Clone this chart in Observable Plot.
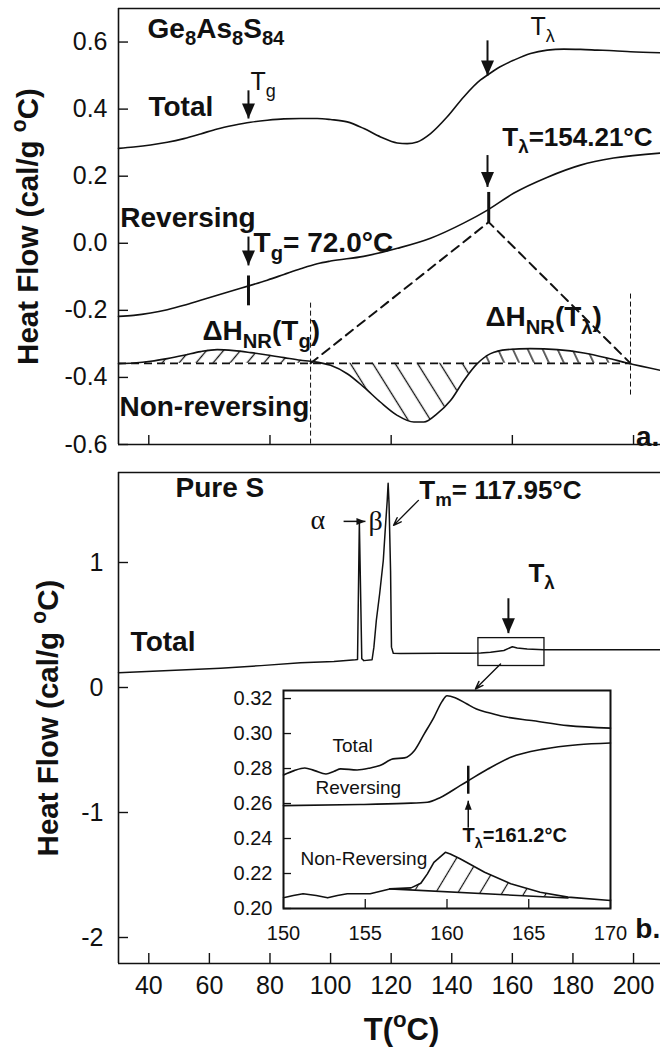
<!DOCTYPE html>
<html><head><meta charset="utf-8">
<script src="https://cdn.jsdelivr.net/npm/d3@7"></script>
<script src="https://cdn.jsdelivr.net/npm/@observablehq/plot@0.6"></script>
<style>
body{margin:0;background:#fff;}
#wrap{position:relative;width:660px;height:1050px;overflow:hidden;font-family:"Liberation Sans",Arial,Helvetica,sans-serif;}
#wrap svg.plotsvg{position:absolute;}
</style></head>
<body>
<svg width="0" height="0" style="position:absolute">
  <defs>
    <pattern id="hatchL" patternUnits="userSpaceOnUse" width="13" height="13" patternTransform="rotate(40)"><line x1="6.5" y1="-1" x2="6.5" y2="14" stroke="#111" stroke-width="1.3"/></pattern>
    <pattern id="hatchD" patternUnits="userSpaceOnUse" width="19" height="19" patternTransform="rotate(-32)"><line x1="9.5" y1="-1" x2="9.5" y2="20" stroke="#111" stroke-width="1.3"/></pattern>
    <pattern id="hatchR" patternUnits="userSpaceOnUse" width="13.5" height="13.5" patternTransform="rotate(-25)"><line x1="6.7" y1="-1" x2="6.7" y2="15" stroke="#111" stroke-width="1.3"/></pattern>
    <pattern id="hatchI" patternUnits="userSpaceOnUse" width="19" height="19" patternTransform="rotate(31)"><line x1="9.5" y1="-1" x2="9.5" y2="20" stroke="#111" stroke-width="1.2"/></pattern>
  </defs>
</svg>
<div id="wrap"></div>
<script>
// ================= DATA =================
// shared temperature axis (°C)
const xDomain = [30, 208.9];
const aXTicks = [40, 80, 120, 160, 200];
const bXTicks = [40, 60, 80, 100, 120, 140, 160, 180, 200];

// ---- panel a: Ge8As8S84 ----
const aYDomain = [-0.6, 0.70];
const aYTicks = [-0.6, -0.4, -0.2, 0, 0.2, 0.4, 0.6];
const aT_total = [30,35,40.6,46.1,51.6,57.1,62.6,68.1,73.6,79.1,84.6,90.1,95.6,100,105.5,111,116.5,122,125.3,128.6,133,138.5,144,149.5,151.7,155,160.5,166,171.5,177,182.5,188,193.5,199,208.9];
const aTotal   = [0.283,0.287,0.293,0.301,0.312,0.326,0.341,0.352,0.361,0.367,0.371,0.372,0.372,0.369,0.362,0.342,0.317,0.299,0.297,0.302,0.327,0.377,0.437,0.487,0.501,0.521,0.546,0.566,0.576,0.579,0.578,0.576,0.574,0.571,0.568];
const aT_rev = [30,35,40.6,46.1,51.6,57.1,62.6,68.1,73,79.1,84.6,90.1,95.6,100,110.9,122.1,133,143.9,151.8,160.4,171.6,182.5,193.4,208.9];
const aRev   = [-0.218,-0.215,-0.208,-0.198,-0.185,-0.170,-0.155,-0.140,-0.127,-0.110,-0.093,-0.076,-0.061,-0.053,-0.039,-0.015,0.015,0.060,0.099,0.149,0.197,0.233,0.254,0.269];
const aT_nr = [30,35,40.6,46.1,51.6,57.1,62.6,68.1,73.6,79.1,84.6,90.1,93.4,100,105.5,111,116.5,122,127.5,130.8,135.2,139.6,144,148.4,152.8,158.3,166,174.8,183.6,191.3,197.9,208.9];
const aNR   = [-0.359,-0.357,-0.352,-0.344,-0.334,-0.323,-0.317,-0.320,-0.326,-0.333,-0.341,-0.349,-0.352,-0.364,-0.389,-0.429,-0.474,-0.513,-0.533,-0.533,-0.508,-0.469,-0.409,-0.359,-0.329,-0.317,-0.314,-0.317,-0.327,-0.342,-0.357,-0.379];
const aBase = -0.358;                 // non-reversing baseline
const aCross = [93.4, 148.4, 199];     // hatch region limits
const aApex = {T: 152.2, v: 0.063};    // construction apex on reversing curve
const aVlines = [{T: 93.4, v0: -0.177, v1: -0.6}, {T: 199, v0: -0.150, v1: -0.460}];
const aArrows = [{T: 72.9, v0: 0.456, v1: 0.372}, {T: 151.8, v0: 0.605, v1: 0.500}, {T: 151.8, v0: 0.263, v1: 0.168}, {T: 72.9, v0: 0.020, v1: -0.066}];
const aMarks = [{T: 72.9, v0: -0.096, v1: -0.185}, {T: 152.2, v0: 0.153, v1: 0.063}];
const aBold = [
  {text: "Ge_8As_8S_{84}", T: 39.6, v: 0.640},
  {text: "Total", T: 39.9, v: 0.405},
  {text: "Reversing", T: 30.6, v: 0.074},
  {text: "T_g= 72.0°C", T: 74.6, v: 0.0},
  {text: "ΔH_{NR}(T_g)", T: 57.7, v: -0.262},
  {text: "ΔH_{NR}(T_λ)", T: 151.1, v: -0.221},
  {text: "Non-reversing", T: 30.3, v: -0.487},
  {text: "a.", T: 200.8, v: -0.579}
];
const aBoldMid = [{text: "T_λ=154.21°C", T: 156.7, v: 0.315}];
const aReg = [{text: "T_g", T: 73.6, v: 0.482}, {text: "T_λ", T: 166, v: 0.646}];

// ---- panel b: pure S ----
const bYDomain = [-2.208, 1.72];
const bYTicks = [-2, -1, 0, 1];
const bT     = [30,63.7,77,90.1,101.1,108.2,108.9,109.5,110.3,111,113.7,114.3,115.1,116.2,117.4,118.1,118.7,119,119.3,119.8,120.1,120.7,123.1,136.3,145.6,149.5,152.8,157.2,160,161.6,164.9,170.4,174.8,183.6,208.9];
const bTotal = [0.118,0.154,0.175,0.198,0.208,0.222,0.224,1.32,0.23,0.215,0.222,0.323,0.536,0.75,1.016,1.283,1.496,1.634,1.47,0.936,0.323,0.274,0.272,0.274,0.274,0.276,0.282,0.296,0.326,0.316,0.308,0.302,0.302,0.302,0.302];
const bBox = [{T0: 148.8, T1: 170.6, v0: 0.172, v1: 0.395}];
const bArrowsDown = [{T: 158.7, v0: 0.714, v1: 0.435}];
const bAlphaArrow = [{T0: 104.3, T1: 111.5, v: 1.329}];
const bThinArrows = [{T0: 129, v0: 1.497, T1: 120.8, v1: 1.297}, {T0: 156.1, v0: 0.188, T1: 147.8, v1: -0.012}];
const bBold = [
  {text: "Pure S", T: 48.8, v: 1.592},
  {text: "Total", T: 34, v: 0.363},
  {text: "b.", T: 200.6, v: -1.935}
];
const bBoldMid = [{text: "T_m= 117.95°C", T: 129.3, v: 1.576}, {text: "T_λ", T: 165.3, v: 0.914}];
const bGreek = [{text: "α", T: 93.4, v: 1.337}, {text: "β", T: 112.5, v: 1.33}];

// ---- inset ----
const iXDomain = [150, 170];
const iYDomain = [0.20, 0.3246];
const iXTicks = [150, 155, 160, 165, 170];
const iYTicks = [0.20, 0.22, 0.24, 0.26, 0.28, 0.30, 0.32];
const iT_total = [150,150.65,151.3,151.9,152.6,153.1,153.5,154.5,155.3,155.9,156.7,157.4,158.0,158.6,159.2,159.7,160.0,160.5,161.2,161.8,162.5,163.3,165.3,167.4,170];
const iTotal   = [0.2763,0.2788,0.2803,0.2788,0.2769,0.2784,0.2798,0.2792,0.2803,0.2817,0.2855,0.2861,0.2902,0.2997,0.3093,0.3184,0.3216,0.3205,0.317,0.314,0.312,0.310,0.3073,0.3045,0.3031];
const iT_rev = [150,154.7,157.4,158.8,159.6,160.8,161.3,162.5,163.9,165.9,168.0,170];
const iRev   = [0.2588,0.2594,0.2601,0.2607,0.2635,0.2702,0.273,0.2797,0.2864,0.2911,0.2936,0.2946];
const iT_nr = [150,150.6,151.2,152,152.7,153.3,153.9,155.3,156.5,157.8,158.4,158.8,159.2,159.9,160.2,160.8,162.3,163.9,165.7,167.4,170];
const iNR   = [0.2061,0.2074,0.2084,0.2074,0.2061,0.2074,0.2084,0.2084,0.2112,0.2118,0.2144,0.2198,0.2264,0.2321,0.2312,0.2284,0.2207,0.2141,0.2093,0.2065,0.2046];
const iBase = [{T: 156.5, v: 0.2112}, {T: 167.4, v: 0.2060}];
const iMark = [{T: 161.3, v0: 0.2816, v1: 0.2656}];
const iArrowUp = [{T: 161.3, v0: 0.2462, v1: 0.2616}];
const iLabels = [
  {text: "Total", T: 153.0, v: 0.293},
  {text: "Reversing", T: 151.96, v: 0.269},
  {text: "Non-Reversing", T: 151.04, v: 0.2285}
];
const iBold = [{text: "T_λ=161.2°C", T: 160.95, v: 0.2417}];

// ================= HELPERS =================
const FONT = '"Liberation Sans", Arial, Helvetica, sans-serif';
const SERIF = '"Liberation Serif", "Times New Roman", serif';
const INK = "#111";
const pts = (Ts, vs) => Ts.map((T, i) => ({T, v: vs[i]}));
function segment(Ts, vs, t0, t1) {
  const f = d3.scaleLinear(Ts, vs);
  const out = [{T: t0, v: f(t0)}];
  Ts.forEach((T, i) => { if (T > t0 && T < t1) out.push({T, v: vs[i]}); });
  out.push({T: t1, v: f(t1)});
  return out;
}
const head = (w, h) => ({draw(ctx) { ctx.moveTo(0, 0); ctx.lineTo(-w, -h); ctx.lineTo(w, -h); ctx.closePath(); }});
const bigHead = head(6.5, 15);
const smallHead = head(3.5, 9);
const fmtA = d => (d < 0 ? "-" : "") + Math.abs(d).toFixed(1);
const fmtB = d => (d < 0 ? "-" : "") + Math.abs(d);
const fmtI = d => d.toFixed(2);
const styleBase = {fontFamily: FONT, color: INK, background: "transparent", overflow: "visible"};
const txt = (data, o) => Plot.text(data, {x: "T", y: "v", text: "text", textAnchor: "start", fill: INK, ...o});

function richify(svg) {
  svg.querySelectorAll("text").forEach(t => {
    const s = t.textContent;
    if (!/[_^]/.test(s)) return;
    const fs = parseFloat(getComputedStyle(t).fontSize) || 16;
    const parts = [];
    const re = /([_^])(\{[^}]*\}|.)/gu;
    let last = 0, m;
    while ((m = re.exec(s))) {
      if (m.index > last) parts.push({str: s.slice(last, m.index), mode: 0});
      let c = m[2]; if (c[0] === "{") c = c.slice(1, -1);
      parts.push({str: c, mode: m[1] === "_" ? 1 : -1});
      last = re.lastIndex;
    }
    if (last < s.length) parts.push({str: s.slice(last), mode: 0});
    while (t.firstChild) t.removeChild(t.firstChild);
    let cur = 0;
    for (const p of parts) {
      const ts = document.createElementNS("http://www.w3.org/2000/svg", "tspan");
      const target = p.mode === 1 ? 0.28 * fs : p.mode === -1 ? -0.42 * fs : 0;
      ts.setAttribute("dy", (target - cur).toFixed(2));
      cur = target;
      if (p.mode) ts.setAttribute("font-size", (0.72 * fs).toFixed(1));
      ts.textContent = p.str;
      t.appendChild(ts);
    }
  });
}

const wrap = document.getElementById("wrap");
function place(svg, left, topPx) {
  svg.classList.add("plotsvg");
  svg.style.left = left + "px";
  svg.style.top = topPx + "px";
  wrap.appendChild(svg);
  richify(svg);
}

// ================= PANEL A =================
const aW = 660, aH = 460, aML = 118, aMT = 8, aMB = 16;
const aPlotW = aW - aML, aPlotH = aH - aMT - aMB;
const panelA = Plot.plot({
  width: aW, height: aH, marginLeft: aML, marginRight: 0, marginTop: aMT, marginBottom: aMB,
  x: {domain: xDomain, axis: null},
  y: {domain: aYDomain, axis: null},
  style: styleBase,
  marks: [
    Plot.areaY(segment(aT_nr, aNR, xDomain[0], aCross[0]), {x: "T", y1: aBase, y2: "v", fill: "url(#hatchL)", curve: "monotone-x"}),
    Plot.areaY(segment(aT_nr, aNR, aCross[0], aCross[1]), {x: "T", y1: aBase, y2: "v", fill: "url(#hatchD)", curve: "monotone-x"}),
    Plot.areaY(segment(aT_nr, aNR, aCross[1], aCross[2]), {x: "T", y1: aBase, y2: "v", fill: "url(#hatchR)", curve: "monotone-x"}),
    Plot.ruleY([aBase], {x1: xDomain[0], x2: aCross[2], stroke: INK, strokeWidth: 1.6, strokeDasharray: "8,5"}),
    Plot.line([{T: aCross[0], v: aBase}, aApex, {T: aCross[2], v: aBase}], {x: "T", y: "v", stroke: INK, strokeWidth: 2, strokeDasharray: "9,6"}),
    Plot.link(aVlines, {x1: "T", x2: "T", y1: "v0", y2: "v1", stroke: INK, strokeWidth: 1, strokeDasharray: "5,3"}),
    Plot.line(pts(aT_total, aTotal), {x: "T", y: "v", curve: "monotone-x", stroke: INK, strokeWidth: 1.6}),
    Plot.line(pts(aT_rev, aRev), {x: "T", y: "v", curve: "monotone-x", stroke: INK, strokeWidth: 1.6}),
    Plot.line(pts(aT_nr, aNR), {x: "T", y: "v", curve: "monotone-x", stroke: INK, strokeWidth: 1.6}),
    Plot.link(aArrows, {x1: "T", x2: "T", y1: "v0", y2: "v1", stroke: INK, strokeWidth: 2}),
    Plot.dot(aArrows, {x: "T", y: "v1", symbol: bigHead, r: 5, fill: INK, stroke: "none"}),
    Plot.link(aMarks, {x1: "T", x2: "T", y1: "v0", y2: "v1", stroke: INK, strokeWidth: 3}),
    Plot.ruleY([aYDomain[0], aYDomain[1]], {stroke: INK, strokeWidth: 1.6}),
    Plot.ruleX([xDomain[0]], {stroke: INK, strokeWidth: 1.6}),
    Plot.tickY(aYTicks, {y: d => d, insetRight: aPlotW - 10, stroke: INK, strokeWidth: 1.4}),
    Plot.tickX(aXTicks, {x: d => d, insetTop: aPlotH - 9, stroke: INK, strokeWidth: 1.4}),
    Plot.axisY({ticks: aYTicks, tickSize: 0, tickPadding: 11, tickFormat: fmtA, fontSize: 25, label: null, fill: INK}),
    Plot.text(["Heat Flow (cal/g ^oC)"], {frameAnchor: "left", textAnchor: "middle", lineAnchor: "middle", dx: -90, rotate: -90, fontSize: 29.5, fontWeight: "bold", fill: INK}),
    txt(aBold, {fontSize: 28, fontWeight: "bold"}),
    txt(aBoldMid, {fontSize: 26, fontWeight: "bold"}),
    txt(aReg, {fontSize: 25})
  ]
});
place(panelA, 0, 0);

// ================= PANEL B =================
const bW = 660, bH = 590, bML = 118, bMT = 12, bMB = 87;
const bPlotW = bW - bML, bPlotH = bH - bMT - bMB;
const panelB = Plot.plot({
  width: bW, height: bH, marginLeft: bML, marginRight: 0, marginTop: bMT, marginBottom: bMB,
  x: {domain: xDomain},
  y: {domain: bYDomain},
  style: styleBase,
  marks: [
    Plot.line(pts(bT, bTotal), {x: "T", y: "v", stroke: INK, strokeWidth: 1.5}),
    Plot.rect(bBox, {x1: "T0", x2: "T1", y1: "v0", y2: "v1", fill: "none", stroke: INK, strokeWidth: 1.3}),
    Plot.link(bArrowsDown, {x1: "T", x2: "T", y1: "v0", y2: "v1", stroke: INK, strokeWidth: 2}),
    Plot.dot(bArrowsDown, {x: "T", y: "v1", symbol: bigHead, r: 5, fill: INK, stroke: "none"}),
    Plot.link(bAlphaArrow, {x1: "T0", x2: "T1", y1: "v", y2: "v", stroke: INK, strokeWidth: 1.5}),
    Plot.dot(bAlphaArrow, {x: "T1", y: "v", symbol: smallHead, rotate: -90, r: 4, fill: INK, stroke: "none"}),
    Plot.arrow(bThinArrows, {x1: "T0", y1: "v0", x2: "T1", y2: "v1", stroke: INK, strokeWidth: 1.4, headLength: 9, headAngle: 40}),
    Plot.ruleY([bYDomain[0], bYDomain[1]], {stroke: INK, strokeWidth: 1.6}),
    Plot.ruleX([xDomain[0]], {stroke: INK, strokeWidth: 1.6}),
    Plot.tickY(bYTicks, {y: d => d, insetRight: bPlotW - 10, stroke: INK, strokeWidth: 1.4}),
    Plot.tickX(bXTicks, {x: d => d, insetTop: bPlotH - 10, stroke: INK, strokeWidth: 1.4}),
    Plot.axisY({ticks: bYTicks, tickSize: 0, tickPadding: 15, tickFormat: fmtB, fontSize: 25, label: null, fill: INK}),
    Plot.axisX({ticks: bXTicks, tickSize: 0, tickPadding: 13, tickFormat: d => String(d), fontSize: 25, label: null, fill: INK}),
    Plot.text(["Heat Flow (cal/g ^oC)"], {frameAnchor: "left", textAnchor: "middle", lineAnchor: "middle", dx: -70, rotate: -90, fontSize: 29.5, fontWeight: "bold", fill: INK}),
    Plot.text(["T(^oC)"], {frameAnchor: "bottom", textAnchor: "middle", lineAnchor: "middle", dx: 12, dy: 67, fontSize: 31, fontWeight: "bold", fill: INK}),
    txt(bBold, {fontSize: 28, fontWeight: "bold"}),
    txt(bBoldMid, {fontSize: 26, fontWeight: "bold"}),
    txt(bGreek, {fontSize: 28, fontFamily: SERIF})
  ]
});
place(panelB, 0, 460);

// ================= INSET =================
const iW = 420, iH = 270, iML = 63, iMR = 30, iMT = 10, iMB = 42;
const iPlotW = iW - iML - iMR, iPlotH = iH - iMT - iMB;
const baseFn = d3.scaleLinear([iBase[0].T, iBase[1].T], [iBase[0].v, iBase[1].v]);
const panelI = Plot.plot({
  width: iW, height: iH, marginLeft: iML, marginRight: iMR, marginTop: iMT, marginBottom: iMB,
  x: {domain: iXDomain},
  y: {domain: iYDomain},
  style: styleBase,
  marks: [
    Plot.areaY(segment(iT_nr, iNR, iBase[0].T, iBase[1].T), {x: "T", y1: d => baseFn(d.T), y2: "v", fill: "url(#hatchI)"}),
    Plot.line(iBase, {x: "T", y: "v", stroke: INK, strokeWidth: 1.6}),
    Plot.line(pts(iT_total, iTotal), {x: "T", y: "v", curve: "monotone-x", stroke: INK, strokeWidth: 1.6}),
    Plot.line(pts(iT_rev, iRev), {x: "T", y: "v", curve: "monotone-x", stroke: INK, strokeWidth: 1.6}),
    Plot.line(pts(iT_nr, iNR), {x: "T", y: "v", stroke: INK, strokeWidth: 1.6}),
    Plot.link(iMark, {x1: "T", x2: "T", y1: "v0", y2: "v1", stroke: INK, strokeWidth: 2.5}),
    Plot.link(iArrowUp, {x1: "T", x2: "T", y1: "v0", y2: "v1", stroke: INK, strokeWidth: 1.5}),
    Plot.dot(iArrowUp, {x: "T", y: "v1", symbol: smallHead, rotate: 180, r: 4, fill: INK, stroke: "none"}),
    Plot.frame({stroke: INK, strokeWidth: 2}),
    Plot.tickY(iYTicks, {y: d => d, insetRight: iPlotW - 8, stroke: INK, strokeWidth: 1.3}),
    Plot.tickX(iXTicks, {x: d => d, insetTop: iPlotH - 9, stroke: INK, strokeWidth: 1.3}),
    Plot.axisY({ticks: iYTicks, tickSize: 0, tickPadding: 11, tickFormat: fmtI, fontSize: 20, label: null, fill: INK}),
    Plot.axisX({ticks: iXTicks, tickSize: 0, tickPadding: 17, tickFormat: d => String(d), fontSize: 20, label: null, fill: INK}),
    txt(iLabels, {fontSize: 19}),
    txt(iBold, {fontSize: 20, fontWeight: "bold"})
  ]
});
place(panelI, 220, 680);
</script>
</body></html>
